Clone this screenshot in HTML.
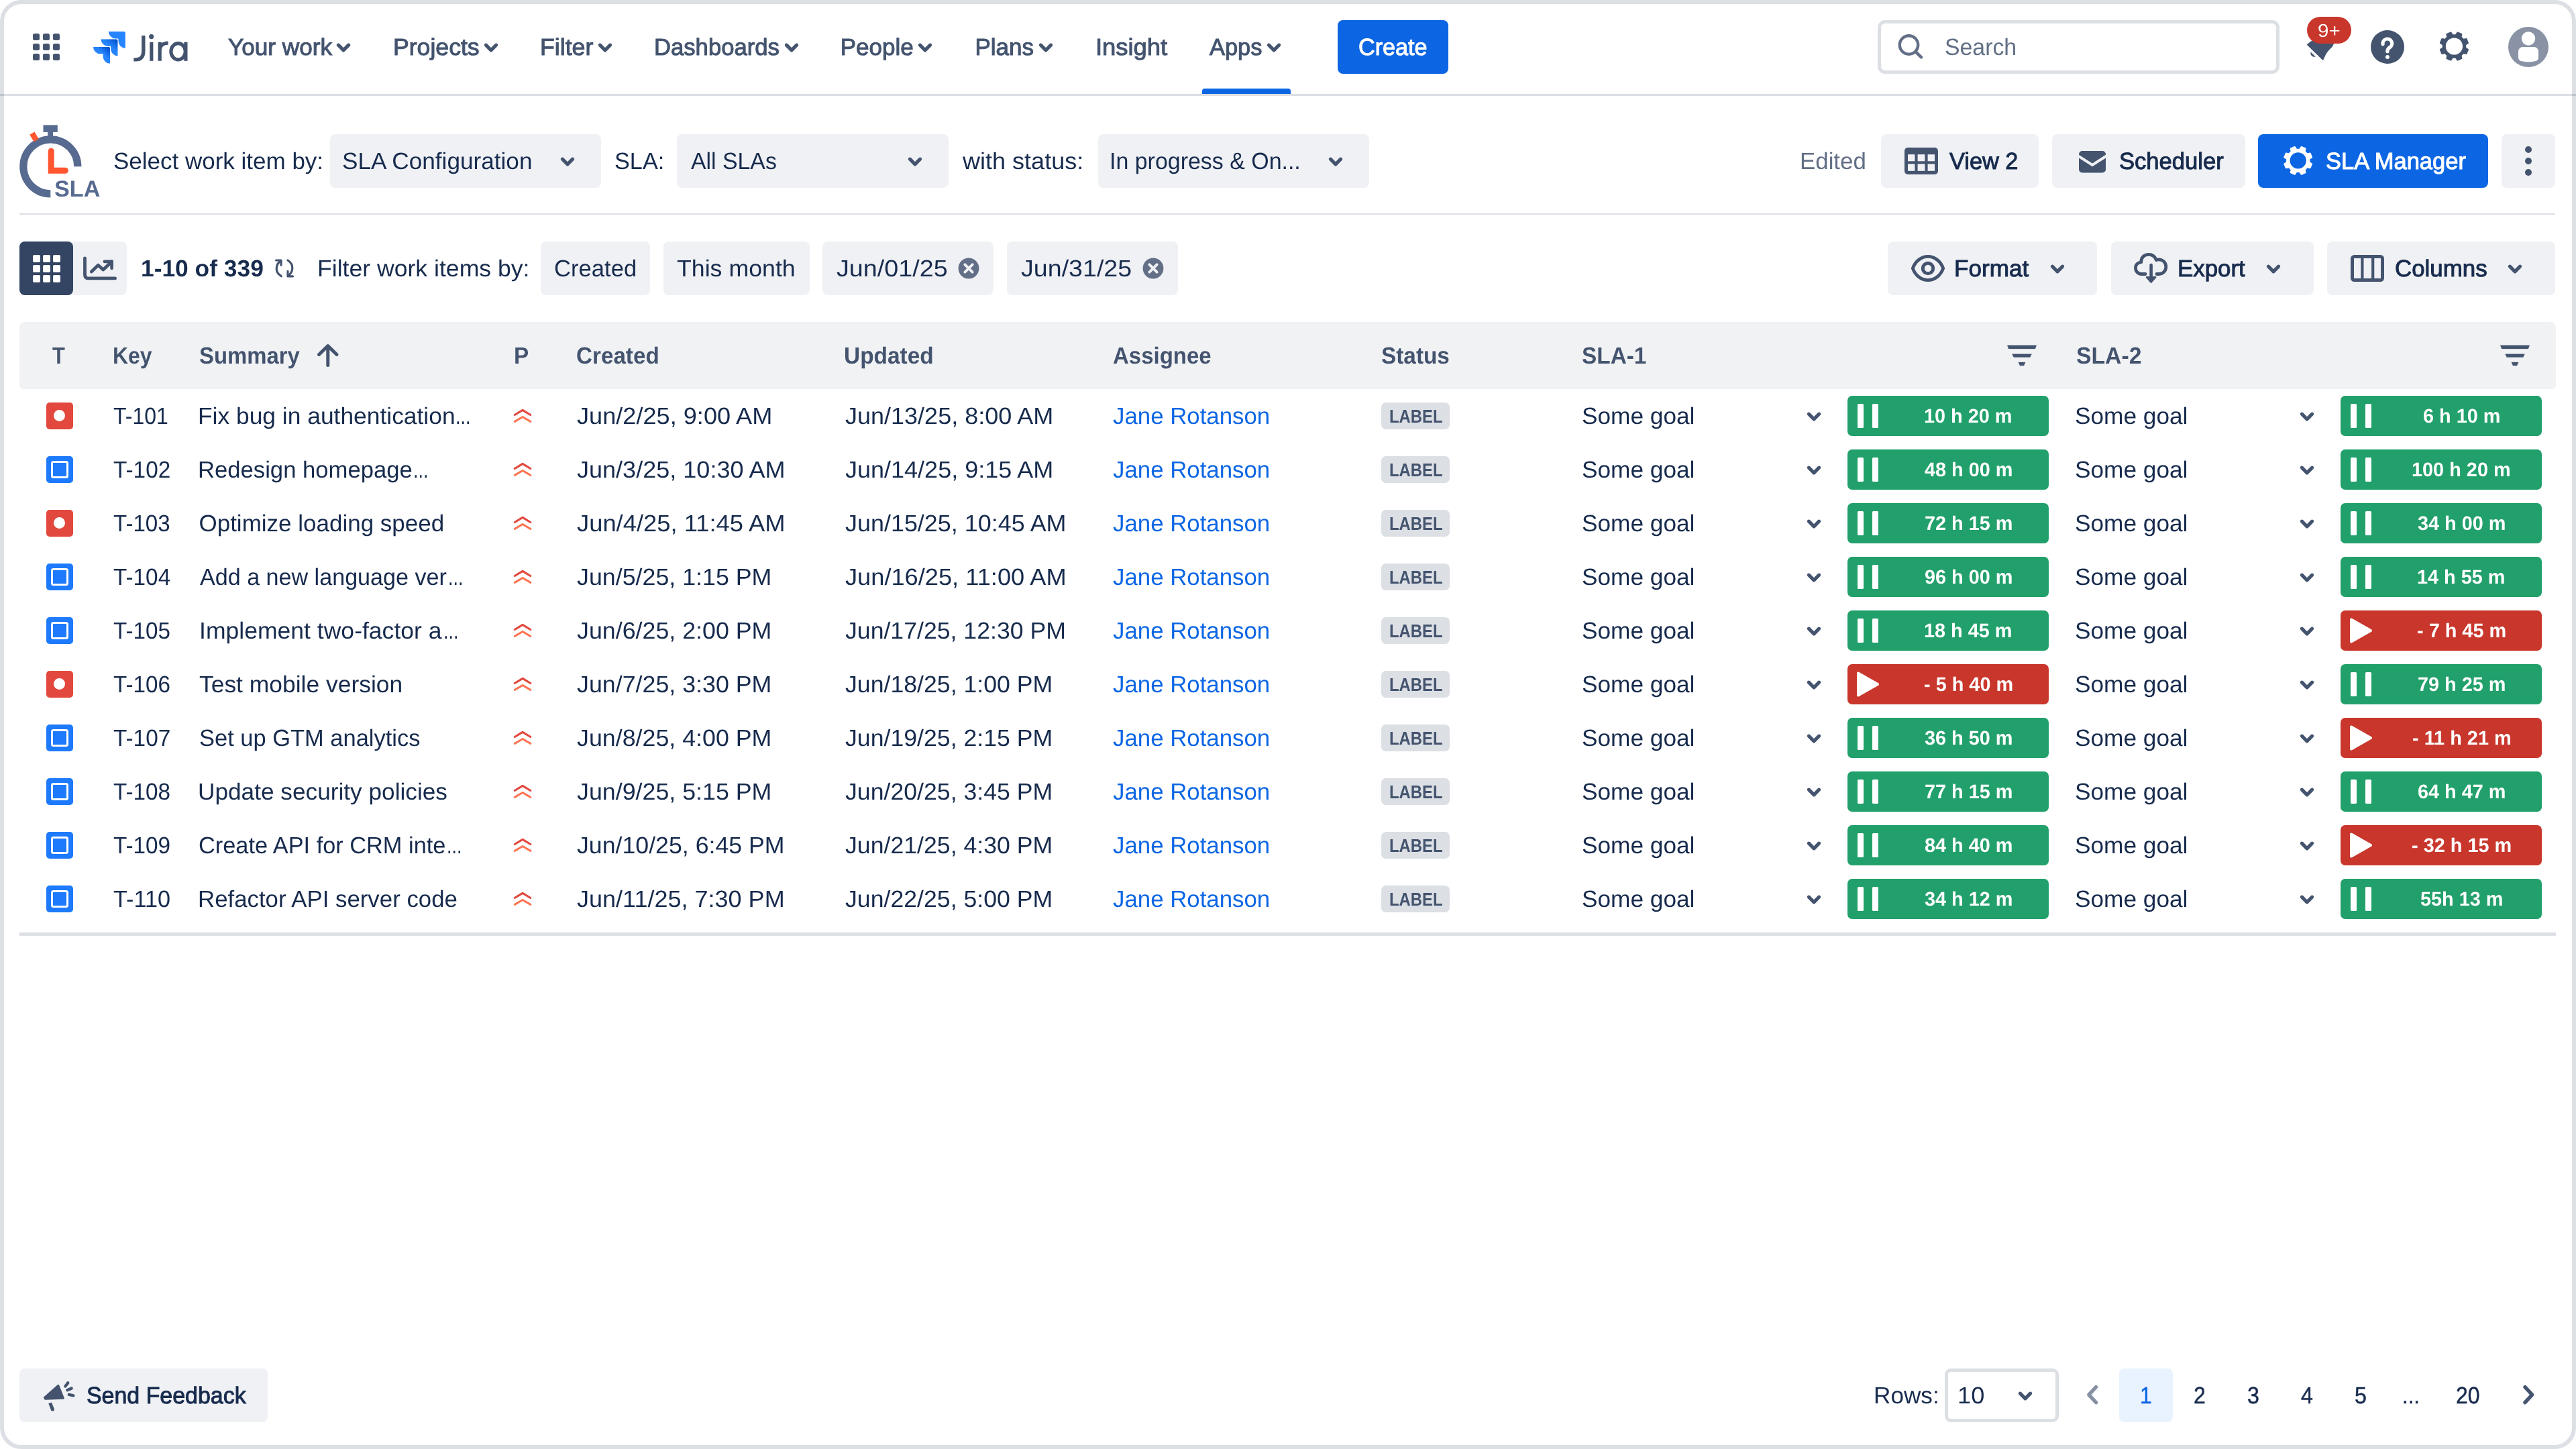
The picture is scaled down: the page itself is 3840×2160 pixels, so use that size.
<!DOCTYPE html>
<html lang="en"><head><meta charset="utf-8"><title>SLA Time and Report - Jira</title>
<style>
html,body{margin:0;padding:0;background:#fff;}
body{width:3840px;height:2160px;position:relative;overflow:hidden;font-family:"Liberation Sans",sans-serif;text-rendering:geometricPrecision;-webkit-font-smoothing:antialiased;}
.a{position:absolute;display:block;}
.t{white-space:pre;margin:0;padding:0;font-weight:400;transform-origin:0 0;}
svg{overflow:visible;}
#w{position:absolute;left:0;top:0;width:3840px;height:2160px;will-change:transform;}
</style></head><body><div id="w">
<div class="a" style="left:0;top:0;width:3840px;height:2160px;box-sizing:border-box;border:6px solid #dcdfe4;border-radius:32px;"></div>
<div class="a " style="left:0px;top:140px;width:3840px;height:2.6px;background:rgba(9,30,66,0.14);"></div>
<div class="a " style="left:29px;top:317.5px;width:3780px;height:2.6px;background:#dcdfe4;"></div>
<div class="a " style="left:49px;top:49.7px;width:10px;height:10px;background:#44546f;border-radius:2.5px;"></div>
<div class="a " style="left:49px;top:64.7px;width:10px;height:10px;background:#44546f;border-radius:2.5px;"></div>
<div class="a " style="left:49px;top:79.7px;width:10px;height:10px;background:#44546f;border-radius:2.5px;"></div>
<div class="a " style="left:64px;top:49.7px;width:10px;height:10px;background:#44546f;border-radius:2.5px;"></div>
<div class="a " style="left:64px;top:64.7px;width:10px;height:10px;background:#44546f;border-radius:2.5px;"></div>
<div class="a " style="left:64px;top:79.7px;width:10px;height:10px;background:#44546f;border-radius:2.5px;"></div>
<div class="a " style="left:79px;top:49.7px;width:10px;height:10px;background:#44546f;border-radius:2.5px;"></div>
<div class="a " style="left:79px;top:64.7px;width:10px;height:10px;background:#44546f;border-radius:2.5px;"></div>
<div class="a " style="left:79px;top:79.7px;width:10px;height:10px;background:#44546f;border-radius:2.5px;"></div>
<svg class="a" style="left:131px;top:39.05px;" width="64" height="64" viewBox="0 0 32 32"><defs><linearGradient id="jg1" x1="21.5" y1="10" x2="17" y2="15" gradientUnits="userSpaceOnUse"><stop offset="0.1" stop-color="#0052cc"/><stop offset="1" stop-color="#2684ff"/></linearGradient><linearGradient id="jg2" x1="16" y1="15.7" x2="11.3" y2="20.6" gradientUnits="userSpaceOnUse"><stop offset="0.1" stop-color="#0052cc"/><stop offset="1" stop-color="#2684ff"/></linearGradient></defs>
<path d="M26.937 4H15.41a5.197 5.197 0 0 0 5.197 5.197h2.123v2.05a5.197 5.197 0 0 0 5.197 5.196V4.99A.99.99 0 0 0 26.937 4z" fill="#2684ff"/>
<path d="M21.233 9.743H9.707a5.197 5.197 0 0 0 5.196 5.197h2.124v2.057a5.197 5.197 0 0 0 5.203 5.19V10.74a.997.997 0 0 0-.997-.997z" fill="url(#jg1)"/>
<path d="M15.527 15.483H4a5.197 5.197 0 0 0 5.197 5.197h2.13v2.05a5.197 5.197 0 0 0 5.19 5.197V16.473a.99.99 0 0 0-.99-.99z" fill="url(#jg2)"/></svg>
<svg class="a" style="left:190px;top:40px;" width="100" height="60" viewBox="0 0 100 60"><g fill="none" stroke="#44546f" stroke-width="5.2">
<path d="M23.8 13 V36.5 C23.8 45 19.5 48.9 12.5 48.9 H9.3" stroke-width="5.4"/>
<path d="M35.8 22.8 V50.8"/>
<path d="M48.2 22.8 V50.8 M48.2 36 C48.2 28 53 24.2 60.7 24.2"/>
<ellipse cx="75.6" cy="36.8" rx="10.7" ry="12.1"/>
<path d="M86.9 22.8 V50.8"/></g>
<circle cx="35.7" cy="14.6" r="3.6" fill="#44546f"/></svg>
<span class="a t" style="left:339.85px;top:48.60px;font-size:35px;line-height:43px;color:#44546f;transform:scaleX(1.0048);-webkit-text-stroke:1.0px #44546f;">Your work</span>
<svg class="a" style="left:497.9px;top:61.1px;" width="28" height="20" viewBox="0 0 28 20"><path d="M6.4 6.2 L14 13.8 L21.6 6.2" fill="none" stroke="#44546f" stroke-width="5.2" stroke-linecap="round" stroke-linejoin="round"/></svg>
<span class="a t" style="left:586.31px;top:48.60px;font-size:35px;line-height:43px;color:#44546f;transform:scaleX(1.0174);-webkit-text-stroke:1.0px #44546f;">Projects</span>
<svg class="a" style="left:717.9px;top:61.1px;" width="28" height="20" viewBox="0 0 28 20"><path d="M6.4 6.2 L14 13.8 L21.6 6.2" fill="none" stroke="#44546f" stroke-width="5.2" stroke-linecap="round" stroke-linejoin="round"/></svg>
<span class="a t" style="left:805.40px;top:48.60px;font-size:35px;line-height:43px;color:#44546f;transform:scaleX(1.0192);-webkit-text-stroke:1.0px #44546f;">Filter</span>
<svg class="a" style="left:887.7px;top:61.1px;" width="28" height="20" viewBox="0 0 28 20"><path d="M6.4 6.2 L14 13.8 L21.6 6.2" fill="none" stroke="#44546f" stroke-width="5.2" stroke-linecap="round" stroke-linejoin="round"/></svg>
<span class="a t" style="left:975.47px;top:48.60px;font-size:35px;line-height:43px;color:#44546f;transform:scaleX(0.9900);-webkit-text-stroke:1.0px #44546f;">Dashboards</span>
<svg class="a" style="left:1165.7px;top:61.1px;" width="28" height="20" viewBox="0 0 28 20"><path d="M6.4 6.2 L14 13.8 L21.6 6.2" fill="none" stroke="#44546f" stroke-width="5.2" stroke-linecap="round" stroke-linejoin="round"/></svg>
<span class="a t" style="left:1252.75px;top:48.60px;font-size:35px;line-height:43px;color:#44546f;-webkit-text-stroke:1.0px #44546f;">People</span>
<svg class="a" style="left:1365.3px;top:61.1px;" width="28" height="20" viewBox="0 0 28 20"><path d="M6.4 6.2 L14 13.8 L21.6 6.2" fill="none" stroke="#44546f" stroke-width="5.2" stroke-linecap="round" stroke-linejoin="round"/></svg>
<span class="a t" style="left:1453.45px;top:48.60px;font-size:35px;line-height:43px;color:#44546f;-webkit-text-stroke:1.0px #44546f;">Plans</span>
<svg class="a" style="left:1544.6px;top:61.1px;" width="28" height="20" viewBox="0 0 28 20"><path d="M6.4 6.2 L14 13.8 L21.6 6.2" fill="none" stroke="#44546f" stroke-width="5.2" stroke-linecap="round" stroke-linejoin="round"/></svg>
<span class="a t" style="left:1632.70px;top:48.60px;font-size:35px;line-height:43px;color:#44546f;transform:scaleX(1.0387);-webkit-text-stroke:1.0px #44546f;">Insight</span>
<span class="a t" style="left:1803.34px;top:48.60px;font-size:35px;line-height:43px;color:#44546f;transform:scaleX(0.9824);-webkit-text-stroke:1.0px #44546f;">Apps</span>
<svg class="a" style="left:1885px;top:61.1px;" width="28" height="20" viewBox="0 0 28 20"><path d="M6.4 6.2 L14 13.8 L21.6 6.2" fill="none" stroke="#44546f" stroke-width="5.2" stroke-linecap="round" stroke-linejoin="round"/></svg>
<div class="a " style="left:1792px;top:132px;width:132px;height:8px;background:#0c66e4;border-radius:4px 4px 0 0;"></div>
<div class="a " style="left:1994px;top:30px;width:165px;height:80px;background:#0c66e4;border-radius:8px;"></div>
<span class="a t" style="left:2024.98px;top:48.60px;font-size:35px;line-height:43px;color:#fff;transform:scaleX(0.9757);-webkit-text-stroke:1.0px #fff;">Create</span>
<div class="a" style="left:2799px;top:30px;width:599px;height:80px;box-sizing:border-box;border:5px solid #dcdfe4;border-radius:11px;"></div>
<svg class="a" style="left:2825px;top:46px;" width="48" height="48" viewBox="0 0 48 48"><circle cx="20.5" cy="21" r="13.7" fill="none" stroke="#626f86" stroke-width="4.4"/><path d="M30.5 31 L39 39.3" stroke="#626f86" stroke-width="4.6" stroke-linecap="round"/></svg>
<span class="a t" style="left:2899.30px;top:48.60px;font-size:35px;line-height:43px;color:#626f86;transform:scaleX(0.9664);">Search</span>
<svg class="a" style="left:3430px;top:55px;" width="60" height="45" viewBox="0 0 60 45"><path d="M10 11.6 L32.6 33.6 C35 27 38 22 42 18 C45.3 14.8 47.4 13 47.8 10 L47.8 4 L20 4 Z" fill="#44546f" stroke="#44546f" stroke-width="2" stroke-linejoin="round"/><path d="M14.6 22.5 A5.6 5.6 0 0 0 21.8 29.4 Z" fill="#44546f"/></svg>
<div class="a " style="left:3438.6px;top:25px;width:66px;height:40px;background:#c9372c;border-radius:20px;"></div>
<span class="a t" style="left:3454.86px;top:28.40px;font-size:27.5px;line-height:35px;color:#fff;transform:scaleX(1.0729);">9+</span>
<svg class="a" style="left:3533px;top:44px;" width="52" height="52" viewBox="0 0 52 52"><circle cx="26" cy="26" r="25" fill="#44546f"/><path d="M19.1 21.8 A6.8 6.8 0 1 1 30 26.2 C27.2 28.2 25.9 29.6 25.9 31.8 V32.7" fill="none" stroke="#fff" stroke-width="5.2" stroke-linecap="round" stroke-linejoin="round"/><circle cx="25.9" cy="41.1" r="3" fill="#fff"/></svg>
<svg class="a" style="left:3632px;top:43px;" width="52" height="52" viewBox="0 0 52 52"><path d="M46.78 31.06 L44.39 36.83 L39.99 35.87 L36.27 39.59 L37.23 43.99 L31.46 46.38 L29.03 42.59 L23.77 42.59 L21.34 46.38 L15.57 43.99 L16.53 39.59 L12.81 35.87 L8.41 36.83 L6.02 31.06 L9.81 28.63 L9.81 23.37 L6.02 20.94 L8.41 15.17 L12.81 16.13 L16.53 12.41 L15.57 8.01 L21.34 5.62 L23.77 9.41 L29.03 9.41 L31.46 5.62 L37.23 8.01 L36.27 12.41 L39.99 16.13 L44.39 15.17 L46.78 20.94 L42.99 23.37 L42.99 28.63 Z" fill="#44546f" stroke="#44546f" stroke-width="2.4" stroke-linejoin="round"/><circle cx="26.4" cy="26" r="12.6" fill="#fff"/></svg>
<svg class="a" style="left:3738px;top:39px;" width="62" height="62" viewBox="0 0 62 62"><circle cx="31" cy="31" r="30" fill="#8993a5"/><circle cx="31" cy="18.5" r="10.2" fill="#fff"/><path d="M16 37.5 a6.5 6.5 0 0 1 6.5 -6.5 h17 a6.5 6.5 0 0 1 6.5 6.5 v9 a6 6 0 0 1 -4 5.6 q-11 2.8 -22 0 a6 6 0 0 1 -4 -5.6 z" fill="#fff"/></svg>
<svg class="a" style="left:20px;top:170px;" width="150" height="140" viewBox="0 0 150 140"><path d="M95.8 78.3 A40.5 40.5 0 1 0 55.3 118.8" fill="none" stroke="#576a8f" stroke-width="11.2"/>
<rect x="44.5" y="16.4" width="21.3" height="10.5" fill="#576a8f"/><rect x="51.2" y="25" width="7.8" height="11" fill="#576a8f"/>
<rect x="-4.2" y="-6.2" width="8.4" height="12.4" fill="#ff5630" transform="translate(31 33.9) rotate(-30)"/>
<path d="M56.2 55.2 V84.2 H77.3" fill="none" stroke="#ff5630" stroke-width="9" stroke-linecap="round" stroke-linejoin="miter"/></svg>
<span class="a t" style="left:81.15px;top:260.90px;font-size:34px;line-height:42px;color:#576a8f;transform:scaleX(1.0045);font-weight:700;">SLA</span>
<span class="a t" style="left:168.95px;top:218.90px;font-size:35px;line-height:43px;color:#172b4d;">Select work item by:</span>
<div class="a " style="left:491.5px;top:200px;width:404.3px;height:80px;background:#f0f1f5;border-radius:8px;"></div>
<span class="a t" style="left:510.44px;top:218.90px;font-size:35px;line-height:43px;color:#172b4d;transform:scaleX(1.0047);">SLA Configuration</span>
<svg class="a" style="left:832px;top:230.5px;" width="28" height="20" viewBox="0 0 28 20"><path d="M6.4 6.2 L14 13.8 L21.6 6.2" fill="none" stroke="#44546f" stroke-width="5.2" stroke-linecap="round" stroke-linejoin="round"/></svg>
<span class="a t" style="left:915.98px;top:218.90px;font-size:35px;line-height:43px;color:#172b4d;transform:scaleX(0.9796);">SLA:</span>
<div class="a " style="left:1009px;top:200px;width:404.5px;height:80px;background:#f0f1f5;border-radius:8px;"></div>
<span class="a t" style="left:1029.95px;top:218.90px;font-size:35px;line-height:43px;color:#172b4d;transform:scaleX(0.9664);">All SLAs</span>
<svg class="a" style="left:1350px;top:230.5px;" width="28" height="20" viewBox="0 0 28 20"><path d="M6.4 6.2 L14 13.8 L21.6 6.2" fill="none" stroke="#44546f" stroke-width="5.2" stroke-linecap="round" stroke-linejoin="round"/></svg>
<span class="a t" style="left:1435.35px;top:218.90px;font-size:35px;line-height:43px;color:#172b4d;transform:scaleX(1.0294);">with status:</span>
<div class="a " style="left:1636.5px;top:200px;width:404.8px;height:80px;background:#f0f1f5;border-radius:8px;"></div>
<span class="a t" style="left:1654.40px;top:218.90px;font-size:35px;line-height:43px;color:#172b4d;transform:scaleX(0.9695);">In progress &amp; On...</span>
<svg class="a" style="left:1977.2px;top:230.5px;" width="28" height="20" viewBox="0 0 28 20"><path d="M6.4 6.2 L14 13.8 L21.6 6.2" fill="none" stroke="#44546f" stroke-width="5.2" stroke-linecap="round" stroke-linejoin="round"/></svg>
<span class="a t" style="left:2682.66px;top:218.90px;font-size:35px;line-height:43px;color:#626f86;transform:scaleX(0.9958);">Edited</span>
<div class="a " style="left:2804px;top:200px;width:235px;height:80px;background:#f0f1f5;border-radius:8px;"></div>
<svg class="a" style="left:2839px;top:220px;" width="50" height="40" viewBox="0 0 50 40"><rect x="0" y="0" width="50" height="40" rx="5" fill="#44546f"/><g fill="#f0f1f5"><rect x="5" y="10.2" width="10.4" height="10.1"/><rect x="19.6" y="10.2" width="10.8" height="10.1"/><rect x="34.6" y="10.2" width="10.4" height="10.1"/><rect x="5" y="24.4" width="10.4" height="10.4"/><rect x="19.6" y="24.4" width="10.8" height="10.4"/><rect x="34.6" y="24.4" width="10.4" height="10.4"/></g></svg>
<span class="a t" style="left:2906.24px;top:218.90px;font-size:35px;line-height:43px;color:#172b4d;transform:scaleX(0.9812);-webkit-text-stroke:1.0px #172b4d;">View 2</span>
<div class="a " style="left:3059px;top:200px;width:287.7px;height:80px;background:#f0f1f5;border-radius:8px;"></div>
<svg class="a" style="left:3099px;top:224.8px;" width="40" height="32.4" viewBox="0 0 40 32.4"><rect x="0" y="0" width="40" height="32.4" rx="5" fill="#44546f"/><path d="M-1 7.5 L20 21 L41 7.5" fill="none" stroke="#f0f1f5" stroke-width="4"/></svg>
<span class="a t" style="left:3159.46px;top:218.90px;font-size:35px;line-height:43px;color:#172b4d;transform:scaleX(0.9879);-webkit-text-stroke:1.0px #172b4d;">Scheduler</span>
<div class="a " style="left:3366.3px;top:200px;width:342.7px;height:80px;background:#0c66e4;border-radius:8px;"></div>
<svg class="a" style="left:3400px;top:214px;" width="52" height="52" viewBox="0 0 52 52"><path d="M45.89 30.41 L43.52 36.13 L39.16 35.18 L35.48 38.86 L36.43 43.22 L30.71 45.59 L28.30 41.84 L23.10 41.84 L20.69 45.59 L14.97 43.22 L15.92 38.86 L12.24 35.18 L7.88 36.13 L5.51 30.41 L9.26 28.00 L9.26 22.80 L5.51 20.39 L7.88 14.67 L12.24 15.62 L15.92 11.94 L14.97 7.58 L20.69 5.21 L23.10 8.96 L28.30 8.96 L30.71 5.21 L36.43 7.58 L35.48 11.94 L39.16 15.62 L43.52 14.67 L45.89 20.39 L42.14 22.80 L42.14 28.00 Z" fill="#fff" stroke="#fff" stroke-width="2.4" stroke-linejoin="round"/><circle cx="25.7" cy="25.4" r="12.1" fill="#0c66e4"/></svg>
<span class="a t" style="left:3467.47px;top:218.90px;font-size:35px;line-height:43px;color:#fff;transform:scaleX(0.9848);-webkit-text-stroke:1.0px #fff;">SLA Manager</span>
<div class="a " style="left:3729px;top:200px;width:80px;height:80px;background:#f0f1f5;border-radius:8px;"></div>
<div class="a " style="left:3764px;top:217.6px;width:10px;height:10px;background:#44546f;border-radius:5px;"></div>
<div class="a " style="left:3764px;top:235px;width:10px;height:10px;background:#44546f;border-radius:5px;"></div>
<div class="a " style="left:3764px;top:252.2px;width:10px;height:10px;background:#44546f;border-radius:5px;"></div>
<div class="a " style="left:29px;top:360px;width:160px;height:80px;background:#f0f1f5;border-radius:8px;"></div>
<div class="a " style="left:29px;top:360px;width:80px;height:80px;background:#344563;border-radius:8px;"></div>
<div class="a " style="left:48.7px;top:380.2px;width:11px;height:10.8px;background:#fff;border-radius:2px;"></div>
<div class="a " style="left:48.7px;top:395px;width:11px;height:10.8px;background:#fff;border-radius:2px;"></div>
<div class="a " style="left:48.7px;top:409.8px;width:11px;height:10.8px;background:#fff;border-radius:2px;"></div>
<div class="a " style="left:63.7px;top:380.2px;width:11px;height:10.8px;background:#fff;border-radius:2px;"></div>
<div class="a " style="left:63.7px;top:395px;width:11px;height:10.8px;background:#fff;border-radius:2px;"></div>
<div class="a " style="left:63.7px;top:409.8px;width:11px;height:10.8px;background:#fff;border-radius:2px;"></div>
<div class="a " style="left:78.7px;top:380.2px;width:11px;height:10.8px;background:#fff;border-radius:2px;"></div>
<div class="a " style="left:78.7px;top:395px;width:11px;height:10.8px;background:#fff;border-radius:2px;"></div>
<div class="a " style="left:78.7px;top:409.8px;width:11px;height:10.8px;background:#fff;border-radius:2px;"></div>
<svg class="a" style="left:120px;top:376px;" width="60" height="48" viewBox="0 0 60 48"><g fill="none" stroke="#44546f" stroke-width="4.8" stroke-linecap="round" stroke-linejoin="round"><path d="M6.5 8.8 V33.4 Q6.5 38.9 12 38.9 H51.6"/><path d="M16.3 29 L26.3 19.3 L33.9 26.1 L46.6 13.9"/><path d="M36 13.9 H46.6 V23.8"/></g></svg>
<span class="a t" style="left:210.48px;top:378.60px;font-size:35px;line-height:43px;color:#172b4d;transform:scaleX(1.0104);font-weight:700;">1-10 of 339</span>
<svg class="a" style="left:405px;top:380px;" width="40" height="40" viewBox="0 0 40 40"><g fill="none" stroke="#44546f" stroke-width="3.2" stroke-linecap="round" stroke-linejoin="round"><path d="M14.3 31.7 C9 28.5 7 24 7.2 20 C7.4 15 10 11 13.8 8.6"/><path d="M6.6 8 H14 V15.3"/><path d="M24 8 C29.5 11.5 31 16 30.8 20 C30.6 24.5 28 28.5 24.3 31.4"/><path d="M31.4 31.9 H24 V24.3"/></g></svg>
<span class="a t" style="left:472.60px;top:378.60px;font-size:35px;line-height:43px;color:#172b4d;transform:scaleX(1.0172);">Filter work items by:</span>
<div class="a " style="left:806.4px;top:360px;width:162.6px;height:80px;background:#f0f1f5;border-radius:8px;"></div>
<span class="a t" style="left:825.57px;top:378.60px;font-size:35px;line-height:43px;color:#172b4d;transform:scaleX(0.9896);">Created</span>
<div class="a " style="left:989px;top:360px;width:217.5px;height:80px;background:#f0f1f5;border-radius:8px;"></div>
<span class="a t" style="left:1009.23px;top:378.60px;font-size:35px;line-height:43px;color:#172b4d;transform:scaleX(1.0206);">This month</span>
<div class="a " style="left:1226px;top:360px;width:255.4px;height:80px;background:#f0f1f5;border-radius:8px;"></div>
<span class="a t" style="left:1246.96px;top:378.60px;font-size:35px;line-height:43px;color:#172b4d;transform:scaleX(1.0777);">Jun/01/25</span>
<div class="a " style="left:1501.4px;top:360px;width:254.8px;height:80px;background:#f0f1f5;border-radius:8px;"></div>
<span class="a t" style="left:1521.96px;top:378.60px;font-size:35px;line-height:43px;color:#172b4d;transform:scaleX(1.0744);">Jun/31/25</span>
<svg class="a" style="left:1428.1px;top:384px;" width="32" height="32" viewBox="0 0 32 32"><circle cx="16" cy="16" r="15.4" fill="#626f86"/><path d="M10.4 10.4 L21.6 21.6 M21.6 10.4 L10.4 21.6" stroke="#f0f1f5" stroke-width="4" stroke-linecap="round"/></svg>
<svg class="a" style="left:1702.9px;top:384px;" width="32" height="32" viewBox="0 0 32 32"><circle cx="16" cy="16" r="15.4" fill="#626f86"/><path d="M10.4 10.4 L21.6 21.6 M21.6 10.4 L10.4 21.6" stroke="#f0f1f5" stroke-width="4" stroke-linecap="round"/></svg>
<div class="a " style="left:2814px;top:360px;width:312.4px;height:80px;background:#f0f1f5;border-radius:8px;"></div>
<svg class="a" style="left:2846px;top:376px;" width="56" height="48" viewBox="0 0 56 48"><path d="M5.3 24 C9 13.5 18 6.4 28 6.4 C38 6.4 47 13.5 50.7 24 C47 34.5 38 41.6 28 41.6 C18 41.6 9 34.5 5.3 24 Z" fill="none" stroke="#44546f" stroke-width="4.8" stroke-linejoin="round"/><circle cx="28" cy="24" r="7.7" fill="none" stroke="#44546f" stroke-width="5"/></svg>
<span class="a t" style="left:2913.14px;top:378.60px;font-size:35px;line-height:43px;color:#172b4d;transform:scaleX(1.0032);-webkit-text-stroke:1.0px #172b4d;">Format</span>
<svg class="a" style="left:3052.5px;top:391.2px;" width="28" height="20" viewBox="0 0 28 20"><path d="M6.4 6.2 L14 13.8 L21.6 6.2" fill="none" stroke="#44546f" stroke-width="5.2" stroke-linecap="round" stroke-linejoin="round"/></svg>
<div class="a " style="left:3146.5px;top:360px;width:302.3px;height:80px;background:#f0f1f5;border-radius:8px;"></div>
<svg class="a" style="left:3176px;top:372px;" width="60" height="56" viewBox="0 0 60 56"><path d="M22 36.5 H16.5 C10.5 36.5 7.4 32 7.4 27.5 C7.4 22.5 11 19 15.8 18.8 C15.5 11.5 21 7.4 27 7.4 C32.5 7.4 36.5 10.5 38.3 15.5 C39.5 15 40.8 14.8 42 14.8 C48 14.8 52.8 19.5 52.8 25.5 C52.8 31.5 48.5 36.5 42.5 36.5 H39" fill="none" stroke="#44546f" stroke-width="4.8" stroke-linecap="round" stroke-linejoin="round"/><path d="M30.6 23 V42" stroke="#44546f" stroke-width="4.6" stroke-linecap="round"/><path d="M24 41.2 H37.2 L30.6 48.6 Z" fill="#44546f" stroke="#44546f" stroke-width="2.6" stroke-linejoin="round"/></svg>
<span class="a t" style="left:3246.16px;top:378.60px;font-size:35px;line-height:43px;color:#172b4d;transform:scaleX(0.9960);-webkit-text-stroke:1.0px #172b4d;">Export</span>
<svg class="a" style="left:3374.8px;top:391.2px;" width="28" height="20" viewBox="0 0 28 20"><path d="M6.4 6.2 L14 13.8 L21.6 6.2" fill="none" stroke="#44546f" stroke-width="5.2" stroke-linecap="round" stroke-linejoin="round"/></svg>
<div class="a " style="left:3469px;top:360px;width:339.7px;height:80px;background:#f0f1f5;border-radius:8px;"></div>
<svg class="a" style="left:3503.5px;top:380px;" width="50" height="40" viewBox="0 0 50 40"><rect x="2.5" y="2.5" width="45" height="35" rx="3" fill="none" stroke="#44546f" stroke-width="5"/><path d="M17.4 3 V37 M33.2 3 V37" stroke="#44546f" stroke-width="4.2"/></svg>
<span class="a t" style="left:3569.75px;top:378.60px;font-size:35px;line-height:43px;color:#172b4d;transform:scaleX(0.9963);-webkit-text-stroke:1.0px #172b4d;">Columns</span>
<svg class="a" style="left:3734.8px;top:391.2px;" width="28" height="20" viewBox="0 0 28 20"><path d="M6.4 6.2 L14 13.8 L21.6 6.2" fill="none" stroke="#44546f" stroke-width="5.2" stroke-linecap="round" stroke-linejoin="round"/></svg>
<div class="a " style="left:29px;top:480px;width:3780.5px;height:100px;background:#f1f2f4;border-radius:8px 8px 6px 6px;"></div>
<span class="a t" style="left:78.39px;top:509.20px;font-size:35px;line-height:43px;color:#44546f;transform:scaleX(0.8841);font-weight:700;">T</span>
<span class="a t" style="left:168.00px;top:509.20px;font-size:35px;line-height:43px;color:#44546f;transform:scaleX(0.9117);font-weight:700;">Key</span>
<span class="a t" style="left:297.06px;top:509.20px;font-size:35px;line-height:43px;color:#44546f;transform:scaleX(0.9391);font-weight:700;">Summary</span>
<span class="a t" style="left:766.41px;top:509.20px;font-size:35px;line-height:43px;color:#44546f;transform:scaleX(0.9521);font-weight:700;">P</span>
<span class="a t" style="left:859.27px;top:509.20px;font-size:35px;line-height:43px;color:#44546f;transform:scaleX(0.9491);font-weight:700;">Created</span>
<span class="a t" style="left:1258.09px;top:509.20px;font-size:35px;line-height:43px;color:#44546f;transform:scaleX(0.9550);font-weight:700;">Updated</span>
<span class="a t" style="left:1658.70px;top:509.20px;font-size:35px;line-height:43px;color:#44546f;transform:scaleX(0.9421);font-weight:700;">Assignee</span>
<span class="a t" style="left:2059.05px;top:509.20px;font-size:35px;line-height:43px;color:#44546f;transform:scaleX(0.9527);font-weight:700;">Status</span>
<span class="a t" style="left:2358.15px;top:509.20px;font-size:35px;line-height:43px;color:#44546f;transform:scaleX(0.9531);font-weight:700;">SLA-1</span>
<span class="a t" style="left:3094.64px;top:509.20px;font-size:35px;line-height:43px;color:#44546f;transform:scaleX(0.9641);font-weight:700;">SLA-2</span>
<svg class="a" style="left:465px;top:505px;" width="48" height="50" viewBox="0 0 48 50"><path d="M23.8 39.5 V11 M10.5 23.5 L23.8 10.6 L37 23.5" fill="none" stroke="#44546f" stroke-width="5" stroke-linecap="round" stroke-linejoin="round"/></svg>
<svg class="a" style="left:2990.1px;top:510px;" width="48" height="40" viewBox="0 0 48 40"><path d="M2.3 4.8 H45.7 L43.8 9.9 H4.2 Z M9.5 17.8 H38.5 L36.2 22.5 H11.8 Z M18.8 30 H29.2 L27 35 H21 Z" fill="#44546f" stroke="#44546f" stroke-width="0.3" stroke-linejoin="round"/></svg>
<svg class="a" style="left:3725.2px;top:510px;" width="48" height="40" viewBox="0 0 48 40"><path d="M2.3 4.8 H45.7 L43.8 9.9 H4.2 Z M9.5 17.8 H38.5 L36.2 22.5 H11.8 Z M18.8 30 H29.2 L27 35 H21 Z" fill="#44546f" stroke="#44546f" stroke-width="0.3" stroke-linejoin="round"/></svg>
<div class="a " style="left:69px;top:600px;width:40px;height:40px;background:#e2483d;border-radius:5px;"></div>
<div class="a " style="left:80.3px;top:611.4px;width:17px;height:17px;background:#fff;border-radius:9px;"></div>
<span class="a t" style="left:169.41px;top:599.00px;font-size:35px;line-height:43px;color:#172b4d;transform:scaleX(0.9139);">T-101</span>
<span class="a t" style="left:295.22px;top:599.00px;font-size:35px;line-height:43px;color:#172b4d;transform:scaleX(1.0110);">Fix bug in authentication</span>
<span class="a t" style="left:678.89px;top:599.00px;font-size:35px;line-height:43px;color:#172b4d;transform:scaleX(0.7659);">...</span>
<svg class="a" style="left:760px;top:606px;" width="40" height="28" viewBox="0 0 40 28"><path d="M7.3 12.5 L19.05 5.4 L30.8 12.5" fill="none" stroke="#e2483d" stroke-width="3.1" stroke-linecap="round" stroke-linejoin="round"/><path d="M7.3 22.3 L19.05 15.5 L30.8 22.3" fill="none" stroke="#ff7452" stroke-width="3.1" stroke-linecap="round" stroke-linejoin="round"/></svg>
<span class="a t" style="left:859.58px;top:599.00px;font-size:35px;line-height:43px;color:#172b4d;transform:scaleX(1.0326);">Jun/2/25, 9:00 AM</span>
<span class="a t" style="left:1259.89px;top:599.00px;font-size:35px;line-height:43px;color:#172b4d;transform:scaleX(1.0287);">Jun/13/25, 8:00 AM</span>
<span class="a t" style="left:1659.00px;top:599.00px;font-size:35px;line-height:43px;color:#0c66e4;transform:scaleX(0.9948);">Jane Rotanson</span>
<div class="a " style="left:2059px;top:600px;width:102.4px;height:40px;background:#dcdfe4;border-radius:7px;"></div>
<span class="a t" style="left:2070.74px;top:603.20px;font-size:27.5px;line-height:35px;color:#44546f;transform:scaleX(0.8669);font-weight:700;">LABEL</span>
<span class="a t" style="left:2357.54px;top:599.00px;font-size:35px;line-height:43px;color:#172b4d;transform:scaleX(1.0064);">Some goal</span>
<svg class="a" style="left:2689.8px;top:611.1px;" width="28" height="20" viewBox="0 0 28 20"><path d="M6.4 6.2 L14 13.8 L21.6 6.2" fill="none" stroke="#44546f" stroke-width="5.2" stroke-linecap="round" stroke-linejoin="round"/></svg>
<div class="a " style="left:2754px;top:590px;width:300px;height:60px;background:#22a06b;border-radius:7px;"></div>
<div class="a " style="left:2768.8px;top:602.4px;width:9px;height:35.2px;background:#fff;border-radius:1.5px;"></div>
<div class="a " style="left:2790.8px;top:602.4px;width:9px;height:35.2px;background:#fff;border-radius:1.5px;"></div>
<span class="a t" style="left:2868.25px;top:602.00px;font-size:29.5px;line-height:37px;color:#fff;transform:scaleX(0.9781);font-weight:700;">10 h 20 m</span>
<span class="a t" style="left:3092.94px;top:599.00px;font-size:35px;line-height:43px;color:#172b4d;transform:scaleX(1.0064);">Some goal</span>
<svg class="a" style="left:3424.8px;top:611.1px;" width="28" height="20" viewBox="0 0 28 20"><path d="M6.4 6.2 L14 13.8 L21.6 6.2" fill="none" stroke="#44546f" stroke-width="5.2" stroke-linecap="round" stroke-linejoin="round"/></svg>
<div class="a " style="left:3489px;top:590px;width:300px;height:60px;background:#22a06b;border-radius:7px;"></div>
<div class="a " style="left:3503.8px;top:602.4px;width:9px;height:35.2px;background:#fff;border-radius:1.5px;"></div>
<div class="a " style="left:3525.8px;top:602.4px;width:9px;height:35.2px;background:#fff;border-radius:1.5px;"></div>
<span class="a t" style="left:3611.71px;top:602.00px;font-size:29.5px;line-height:37px;color:#fff;transform:scaleX(0.9772);font-weight:700;">6 h 10 m</span>
<div class="a " style="left:69px;top:680px;width:40px;height:40px;background:#1d7afc;border-radius:5px;"></div>
<div class="a" style="left:75.6px;top:686.6px;width:26.8px;height:26.8px;box-sizing:border-box;border:3.4px solid #fff;border-radius:3.5px;"></div>
<span class="a t" style="left:169.39px;top:679.00px;font-size:35px;line-height:43px;color:#172b4d;transform:scaleX(0.9523);">T-102</span>
<span class="a t" style="left:295.28px;top:679.00px;font-size:35px;line-height:43px;color:#172b4d;transform:scaleX(0.9901);">Redesign homepage</span>
<span class="a t" style="left:615.99px;top:679.00px;font-size:35px;line-height:43px;color:#172b4d;transform:scaleX(0.7659);">...</span>
<svg class="a" style="left:760px;top:686px;" width="40" height="28" viewBox="0 0 40 28"><path d="M7.3 12.5 L19.05 5.4 L30.8 12.5" fill="none" stroke="#e2483d" stroke-width="3.1" stroke-linecap="round" stroke-linejoin="round"/><path d="M7.3 22.3 L19.05 15.5 L30.8 22.3" fill="none" stroke="#ff7452" stroke-width="3.1" stroke-linecap="round" stroke-linejoin="round"/></svg>
<span class="a t" style="left:859.59px;top:679.00px;font-size:35px;line-height:43px;color:#172b4d;transform:scaleX(1.0297);">Jun/3/25, 10:30 AM</span>
<span class="a t" style="left:1259.89px;top:679.00px;font-size:35px;line-height:43px;color:#172b4d;transform:scaleX(1.0287);">Jun/14/25, 9:15 AM</span>
<span class="a t" style="left:1659.00px;top:679.00px;font-size:35px;line-height:43px;color:#0c66e4;transform:scaleX(0.9948);">Jane Rotanson</span>
<div class="a " style="left:2059px;top:680px;width:102.4px;height:40px;background:#dcdfe4;border-radius:7px;"></div>
<span class="a t" style="left:2070.74px;top:683.20px;font-size:27.5px;line-height:35px;color:#44546f;transform:scaleX(0.8669);font-weight:700;">LABEL</span>
<span class="a t" style="left:2357.54px;top:679.00px;font-size:35px;line-height:43px;color:#172b4d;transform:scaleX(1.0064);">Some goal</span>
<svg class="a" style="left:2689.8px;top:691.1px;" width="28" height="20" viewBox="0 0 28 20"><path d="M6.4 6.2 L14 13.8 L21.6 6.2" fill="none" stroke="#44546f" stroke-width="5.2" stroke-linecap="round" stroke-linejoin="round"/></svg>
<div class="a " style="left:2754px;top:670px;width:300px;height:60px;background:#22a06b;border-radius:7px;"></div>
<div class="a " style="left:2768.8px;top:682.4px;width:9px;height:35.2px;background:#fff;border-radius:1.5px;"></div>
<div class="a " style="left:2790.8px;top:682.4px;width:9px;height:35.2px;background:#fff;border-radius:1.5px;"></div>
<span class="a t" style="left:2868.95px;top:682.00px;font-size:29.5px;line-height:37px;color:#fff;transform:scaleX(0.9782);font-weight:700;">48 h 00 m</span>
<span class="a t" style="left:3092.94px;top:679.00px;font-size:35px;line-height:43px;color:#172b4d;transform:scaleX(1.0064);">Some goal</span>
<svg class="a" style="left:3424.8px;top:691.1px;" width="28" height="20" viewBox="0 0 28 20"><path d="M6.4 6.2 L14 13.8 L21.6 6.2" fill="none" stroke="#44546f" stroke-width="5.2" stroke-linecap="round" stroke-linejoin="round"/></svg>
<div class="a " style="left:3489px;top:670px;width:300px;height:60px;background:#22a06b;border-radius:7px;"></div>
<div class="a " style="left:3503.8px;top:682.4px;width:9px;height:35.2px;background:#fff;border-radius:1.5px;"></div>
<div class="a " style="left:3525.8px;top:682.4px;width:9px;height:35.2px;background:#fff;border-radius:1.5px;"></div>
<span class="a t" style="left:3595.17px;top:682.00px;font-size:29.5px;line-height:37px;color:#fff;transform:scaleX(0.9789);font-weight:700;">100 h 20 m</span>
<div class="a " style="left:69px;top:760px;width:40px;height:40px;background:#e2483d;border-radius:5px;"></div>
<div class="a " style="left:80.3px;top:771.4px;width:17px;height:17px;background:#fff;border-radius:9px;"></div>
<span class="a t" style="left:169.39px;top:759.00px;font-size:35px;line-height:43px;color:#172b4d;transform:scaleX(0.9467);">T-103</span>
<span class="a t" style="left:296.45px;top:759.00px;font-size:35px;line-height:43px;color:#172b4d;">Optimize loading speed</span>
<svg class="a" style="left:760px;top:766px;" width="40" height="28" viewBox="0 0 40 28"><path d="M7.3 12.5 L19.05 5.4 L30.8 12.5" fill="none" stroke="#e2483d" stroke-width="3.1" stroke-linecap="round" stroke-linejoin="round"/><path d="M7.3 22.3 L19.05 15.5 L30.8 22.3" fill="none" stroke="#ff7452" stroke-width="3.1" stroke-linecap="round" stroke-linejoin="round"/></svg>
<span class="a t" style="left:859.58px;top:759.00px;font-size:35px;line-height:43px;color:#172b4d;transform:scaleX(1.0387);">Jun/4/25, 11:45 AM</span>
<span class="a t" style="left:1259.89px;top:759.00px;font-size:35px;line-height:43px;color:#172b4d;transform:scaleX(1.0264);">Jun/15/25, 10:45 AM</span>
<span class="a t" style="left:1659.00px;top:759.00px;font-size:35px;line-height:43px;color:#0c66e4;transform:scaleX(0.9948);">Jane Rotanson</span>
<div class="a " style="left:2059px;top:760px;width:102.4px;height:40px;background:#dcdfe4;border-radius:7px;"></div>
<span class="a t" style="left:2070.74px;top:763.20px;font-size:27.5px;line-height:35px;color:#44546f;transform:scaleX(0.8669);font-weight:700;">LABEL</span>
<span class="a t" style="left:2357.54px;top:759.00px;font-size:35px;line-height:43px;color:#172b4d;transform:scaleX(1.0064);">Some goal</span>
<svg class="a" style="left:2689.8px;top:771.1px;" width="28" height="20" viewBox="0 0 28 20"><path d="M6.4 6.2 L14 13.8 L21.6 6.2" fill="none" stroke="#44546f" stroke-width="5.2" stroke-linecap="round" stroke-linejoin="round"/></svg>
<div class="a " style="left:2754px;top:750px;width:300px;height:60px;background:#22a06b;border-radius:7px;"></div>
<div class="a " style="left:2768.8px;top:762.4px;width:9px;height:35.2px;background:#fff;border-radius:1.5px;"></div>
<div class="a " style="left:2790.8px;top:762.4px;width:9px;height:35.2px;background:#fff;border-radius:1.5px;"></div>
<span class="a t" style="left:2868.54px;top:762.00px;font-size:29.5px;line-height:37px;color:#fff;transform:scaleX(0.9782);font-weight:700;">72 h 15 m</span>
<span class="a t" style="left:3092.94px;top:759.00px;font-size:35px;line-height:43px;color:#172b4d;transform:scaleX(1.0064);">Some goal</span>
<svg class="a" style="left:3424.8px;top:771.1px;" width="28" height="20" viewBox="0 0 28 20"><path d="M6.4 6.2 L14 13.8 L21.6 6.2" fill="none" stroke="#44546f" stroke-width="5.2" stroke-linecap="round" stroke-linejoin="round"/></svg>
<div class="a " style="left:3489px;top:750px;width:300px;height:60px;background:#22a06b;border-radius:7px;"></div>
<div class="a " style="left:3503.8px;top:762.4px;width:9px;height:35.2px;background:#fff;border-radius:1.5px;"></div>
<div class="a " style="left:3525.8px;top:762.4px;width:9px;height:35.2px;background:#fff;border-radius:1.5px;"></div>
<span class="a t" style="left:3603.83px;top:762.00px;font-size:29.5px;line-height:37px;color:#fff;transform:scaleX(0.9782);font-weight:700;">34 h 00 m</span>
<div class="a " style="left:69px;top:840px;width:40px;height:40px;background:#1d7afc;border-radius:5px;"></div>
<div class="a" style="left:75.6px;top:846.6px;width:26.8px;height:26.8px;box-sizing:border-box;border:3.4px solid #fff;border-radius:3.5px;"></div>
<span class="a t" style="left:169.39px;top:839.00px;font-size:35px;line-height:43px;color:#172b4d;transform:scaleX(0.9516);">T-104</span>
<span class="a t" style="left:298.05px;top:839.00px;font-size:35px;line-height:43px;color:#172b4d;transform:scaleX(0.9743);">Add a new language ver</span>
<span class="a t" style="left:667.69px;top:839.00px;font-size:35px;line-height:43px;color:#172b4d;transform:scaleX(0.7659);">...</span>
<svg class="a" style="left:760px;top:846px;" width="40" height="28" viewBox="0 0 40 28"><path d="M7.3 12.5 L19.05 5.4 L30.8 12.5" fill="none" stroke="#e2483d" stroke-width="3.1" stroke-linecap="round" stroke-linejoin="round"/><path d="M7.3 22.3 L19.05 15.5 L30.8 22.3" fill="none" stroke="#ff7452" stroke-width="3.1" stroke-linecap="round" stroke-linejoin="round"/></svg>
<span class="a t" style="left:859.59px;top:839.00px;font-size:35px;line-height:43px;color:#172b4d;transform:scaleX(1.0224);">Jun/5/25, 1:15 PM</span>
<span class="a t" style="left:1259.88px;top:839.00px;font-size:35px;line-height:43px;color:#172b4d;transform:scaleX(1.0349);">Jun/16/25, 11:00 AM</span>
<span class="a t" style="left:1659.00px;top:839.00px;font-size:35px;line-height:43px;color:#0c66e4;transform:scaleX(0.9948);">Jane Rotanson</span>
<div class="a " style="left:2059px;top:840px;width:102.4px;height:40px;background:#dcdfe4;border-radius:7px;"></div>
<span class="a t" style="left:2070.74px;top:843.20px;font-size:27.5px;line-height:35px;color:#44546f;transform:scaleX(0.8669);font-weight:700;">LABEL</span>
<span class="a t" style="left:2357.54px;top:839.00px;font-size:35px;line-height:43px;color:#172b4d;transform:scaleX(1.0064);">Some goal</span>
<svg class="a" style="left:2689.8px;top:851.1px;" width="28" height="20" viewBox="0 0 28 20"><path d="M6.4 6.2 L14 13.8 L21.6 6.2" fill="none" stroke="#44546f" stroke-width="5.2" stroke-linecap="round" stroke-linejoin="round"/></svg>
<div class="a " style="left:2754px;top:830px;width:300px;height:60px;background:#22a06b;border-radius:7px;"></div>
<div class="a " style="left:2768.8px;top:842.4px;width:9px;height:35.2px;background:#fff;border-radius:1.5px;"></div>
<div class="a " style="left:2790.8px;top:842.4px;width:9px;height:35.2px;background:#fff;border-radius:1.5px;"></div>
<span class="a t" style="left:2868.66px;top:842.00px;font-size:29.5px;line-height:37px;color:#fff;transform:scaleX(0.9782);font-weight:700;">96 h 00 m</span>
<span class="a t" style="left:3092.94px;top:839.00px;font-size:35px;line-height:43px;color:#172b4d;transform:scaleX(1.0064);">Some goal</span>
<svg class="a" style="left:3424.8px;top:851.1px;" width="28" height="20" viewBox="0 0 28 20"><path d="M6.4 6.2 L14 13.8 L21.6 6.2" fill="none" stroke="#44546f" stroke-width="5.2" stroke-linecap="round" stroke-linejoin="round"/></svg>
<div class="a " style="left:3489px;top:830px;width:300px;height:60px;background:#22a06b;border-radius:7px;"></div>
<div class="a " style="left:3503.8px;top:842.4px;width:9px;height:35.2px;background:#fff;border-radius:1.5px;"></div>
<div class="a " style="left:3525.8px;top:842.4px;width:9px;height:35.2px;background:#fff;border-radius:1.5px;"></div>
<span class="a t" style="left:3603.25px;top:842.00px;font-size:29.5px;line-height:37px;color:#fff;transform:scaleX(0.9781);font-weight:700;">14 h 55 m</span>
<div class="a " style="left:69px;top:920px;width:40px;height:40px;background:#1d7afc;border-radius:5px;"></div>
<div class="a" style="left:75.6px;top:926.6px;width:26.8px;height:26.8px;box-sizing:border-box;border:3.4px solid #fff;border-radius:3.5px;"></div>
<span class="a t" style="left:169.39px;top:919.00px;font-size:35px;line-height:43px;color:#172b4d;transform:scaleX(0.9496);">T-105</span>
<span class="a t" style="left:296.75px;top:919.00px;font-size:35px;line-height:43px;color:#172b4d;transform:scaleX(1.0156);">Implement two-factor a</span>
<span class="a t" style="left:660.69px;top:919.00px;font-size:35px;line-height:43px;color:#172b4d;transform:scaleX(0.7659);">...</span>
<svg class="a" style="left:760px;top:926px;" width="40" height="28" viewBox="0 0 40 28"><path d="M7.3 12.5 L19.05 5.4 L30.8 12.5" fill="none" stroke="#e2483d" stroke-width="3.1" stroke-linecap="round" stroke-linejoin="round"/><path d="M7.3 22.3 L19.05 15.5 L30.8 22.3" fill="none" stroke="#ff7452" stroke-width="3.1" stroke-linecap="round" stroke-linejoin="round"/></svg>
<span class="a t" style="left:859.59px;top:919.00px;font-size:35px;line-height:43px;color:#172b4d;transform:scaleX(1.0224);">Jun/6/25, 2:00 PM</span>
<span class="a t" style="left:1259.89px;top:919.00px;font-size:35px;line-height:43px;color:#172b4d;transform:scaleX(1.0183);">Jun/17/25, 12:30 PM</span>
<span class="a t" style="left:1659.00px;top:919.00px;font-size:35px;line-height:43px;color:#0c66e4;transform:scaleX(0.9948);">Jane Rotanson</span>
<div class="a " style="left:2059px;top:920px;width:102.4px;height:40px;background:#dcdfe4;border-radius:7px;"></div>
<span class="a t" style="left:2070.74px;top:923.20px;font-size:27.5px;line-height:35px;color:#44546f;transform:scaleX(0.8669);font-weight:700;">LABEL</span>
<span class="a t" style="left:2357.54px;top:919.00px;font-size:35px;line-height:43px;color:#172b4d;transform:scaleX(1.0064);">Some goal</span>
<svg class="a" style="left:2689.8px;top:931.1px;" width="28" height="20" viewBox="0 0 28 20"><path d="M6.4 6.2 L14 13.8 L21.6 6.2" fill="none" stroke="#44546f" stroke-width="5.2" stroke-linecap="round" stroke-linejoin="round"/></svg>
<div class="a " style="left:2754px;top:910px;width:300px;height:60px;background:#22a06b;border-radius:7px;"></div>
<div class="a " style="left:2768.8px;top:922.4px;width:9px;height:35.2px;background:#fff;border-radius:1.5px;"></div>
<div class="a " style="left:2790.8px;top:922.4px;width:9px;height:35.2px;background:#fff;border-radius:1.5px;"></div>
<span class="a t" style="left:2868.25px;top:922.00px;font-size:29.5px;line-height:37px;color:#fff;transform:scaleX(0.9781);font-weight:700;">18 h 45 m</span>
<span class="a t" style="left:3092.94px;top:919.00px;font-size:35px;line-height:43px;color:#172b4d;transform:scaleX(1.0064);">Some goal</span>
<svg class="a" style="left:3424.8px;top:931.1px;" width="28" height="20" viewBox="0 0 28 20"><path d="M6.4 6.2 L14 13.8 L21.6 6.2" fill="none" stroke="#44546f" stroke-width="5.2" stroke-linecap="round" stroke-linejoin="round"/></svg>
<div class="a " style="left:3489px;top:910px;width:300px;height:60px;background:#c9372c;border-radius:7px;"></div>
<svg class="a" style="left:3499px;top:916px;" width="44" height="48" viewBox="0 0 44 48"><path d="M6 7.5 L35 24 L6 40.5 Z" fill="#fff" stroke="#fff" stroke-width="4" stroke-linejoin="round"/></svg>
<span class="a t" style="left:3602.80px;top:922.00px;font-size:29.5px;line-height:37px;color:#fff;transform:scaleX(0.9782);font-weight:700;">- 7 h 45 m</span>
<div class="a " style="left:69px;top:1000px;width:40px;height:40px;background:#e2483d;border-radius:5px;"></div>
<div class="a " style="left:80.3px;top:1011.4px;width:17px;height:17px;background:#fff;border-radius:9px;"></div>
<span class="a t" style="left:169.39px;top:999.00px;font-size:35px;line-height:43px;color:#172b4d;transform:scaleX(0.9501);">T-106</span>
<span class="a t" style="left:297.34px;top:999.00px;font-size:35px;line-height:43px;color:#172b4d;transform:scaleX(1.0120);">Test mobile version</span>
<svg class="a" style="left:760px;top:1006px;" width="40" height="28" viewBox="0 0 40 28"><path d="M7.3 12.5 L19.05 5.4 L30.8 12.5" fill="none" stroke="#e2483d" stroke-width="3.1" stroke-linecap="round" stroke-linejoin="round"/><path d="M7.3 22.3 L19.05 15.5 L30.8 22.3" fill="none" stroke="#ff7452" stroke-width="3.1" stroke-linecap="round" stroke-linejoin="round"/></svg>
<span class="a t" style="left:859.59px;top:999.00px;font-size:35px;line-height:43px;color:#172b4d;transform:scaleX(1.0224);">Jun/7/25, 3:30 PM</span>
<span class="a t" style="left:1259.89px;top:999.00px;font-size:35px;line-height:43px;color:#172b4d;transform:scaleX(1.0190);">Jun/18/25, 1:00 PM</span>
<span class="a t" style="left:1659.00px;top:999.00px;font-size:35px;line-height:43px;color:#0c66e4;transform:scaleX(0.9948);">Jane Rotanson</span>
<div class="a " style="left:2059px;top:1000px;width:102.4px;height:40px;background:#dcdfe4;border-radius:7px;"></div>
<span class="a t" style="left:2070.74px;top:1003.20px;font-size:27.5px;line-height:35px;color:#44546f;transform:scaleX(0.8669);font-weight:700;">LABEL</span>
<span class="a t" style="left:2357.54px;top:999.00px;font-size:35px;line-height:43px;color:#172b4d;transform:scaleX(1.0064);">Some goal</span>
<svg class="a" style="left:2689.8px;top:1011.1px;" width="28" height="20" viewBox="0 0 28 20"><path d="M6.4 6.2 L14 13.8 L21.6 6.2" fill="none" stroke="#44546f" stroke-width="5.2" stroke-linecap="round" stroke-linejoin="round"/></svg>
<div class="a " style="left:2754px;top:990px;width:300px;height:60px;background:#c9372c;border-radius:7px;"></div>
<svg class="a" style="left:2764px;top:996px;" width="44" height="48" viewBox="0 0 44 48"><path d="M6 7.5 L35 24 L6 40.5 Z" fill="#fff" stroke="#fff" stroke-width="4" stroke-linejoin="round"/></svg>
<span class="a t" style="left:2867.80px;top:1002.00px;font-size:29.5px;line-height:37px;color:#fff;transform:scaleX(0.9782);font-weight:700;">- 5 h 40 m</span>
<span class="a t" style="left:3092.94px;top:999.00px;font-size:35px;line-height:43px;color:#172b4d;transform:scaleX(1.0064);">Some goal</span>
<svg class="a" style="left:3424.8px;top:1011.1px;" width="28" height="20" viewBox="0 0 28 20"><path d="M6.4 6.2 L14 13.8 L21.6 6.2" fill="none" stroke="#44546f" stroke-width="5.2" stroke-linecap="round" stroke-linejoin="round"/></svg>
<div class="a " style="left:3489px;top:990px;width:300px;height:60px;background:#22a06b;border-radius:7px;"></div>
<div class="a " style="left:3503.8px;top:1002.4px;width:9px;height:35.2px;background:#fff;border-radius:1.5px;"></div>
<div class="a " style="left:3525.8px;top:1002.4px;width:9px;height:35.2px;background:#fff;border-radius:1.5px;"></div>
<span class="a t" style="left:3603.54px;top:1002.00px;font-size:29.5px;line-height:37px;color:#fff;transform:scaleX(0.9782);font-weight:700;">79 h 25 m</span>
<div class="a " style="left:69px;top:1080px;width:40px;height:40px;background:#1d7afc;border-radius:5px;"></div>
<div class="a" style="left:75.6px;top:1086.6px;width:26.8px;height:26.8px;box-sizing:border-box;border:3.4px solid #fff;border-radius:3.5px;"></div>
<span class="a t" style="left:169.39px;top:1079.00px;font-size:35px;line-height:43px;color:#172b4d;transform:scaleX(0.9523);">T-107</span>
<span class="a t" style="left:296.57px;top:1079.00px;font-size:35px;line-height:43px;color:#172b4d;transform:scaleX(0.9845);">Set up GTM analytics</span>
<svg class="a" style="left:760px;top:1086px;" width="40" height="28" viewBox="0 0 40 28"><path d="M7.3 12.5 L19.05 5.4 L30.8 12.5" fill="none" stroke="#e2483d" stroke-width="3.1" stroke-linecap="round" stroke-linejoin="round"/><path d="M7.3 22.3 L19.05 15.5 L30.8 22.3" fill="none" stroke="#ff7452" stroke-width="3.1" stroke-linecap="round" stroke-linejoin="round"/></svg>
<span class="a t" style="left:859.59px;top:1079.00px;font-size:35px;line-height:43px;color:#172b4d;transform:scaleX(1.0224);">Jun/8/25, 4:00 PM</span>
<span class="a t" style="left:1259.89px;top:1079.00px;font-size:35px;line-height:43px;color:#172b4d;transform:scaleX(1.0190);">Jun/19/25, 2:15 PM</span>
<span class="a t" style="left:1659.00px;top:1079.00px;font-size:35px;line-height:43px;color:#0c66e4;transform:scaleX(0.9948);">Jane Rotanson</span>
<div class="a " style="left:2059px;top:1080px;width:102.4px;height:40px;background:#dcdfe4;border-radius:7px;"></div>
<span class="a t" style="left:2070.74px;top:1083.20px;font-size:27.5px;line-height:35px;color:#44546f;transform:scaleX(0.8669);font-weight:700;">LABEL</span>
<span class="a t" style="left:2357.54px;top:1079.00px;font-size:35px;line-height:43px;color:#172b4d;transform:scaleX(1.0064);">Some goal</span>
<svg class="a" style="left:2689.8px;top:1091.1px;" width="28" height="20" viewBox="0 0 28 20"><path d="M6.4 6.2 L14 13.8 L21.6 6.2" fill="none" stroke="#44546f" stroke-width="5.2" stroke-linecap="round" stroke-linejoin="round"/></svg>
<div class="a " style="left:2754px;top:1070px;width:300px;height:60px;background:#22a06b;border-radius:7px;"></div>
<div class="a " style="left:2768.8px;top:1082.4px;width:9px;height:35.2px;background:#fff;border-radius:1.5px;"></div>
<div class="a " style="left:2790.8px;top:1082.4px;width:9px;height:35.2px;background:#fff;border-radius:1.5px;"></div>
<span class="a t" style="left:2868.83px;top:1082.00px;font-size:29.5px;line-height:37px;color:#fff;transform:scaleX(0.9782);font-weight:700;">36 h 50 m</span>
<span class="a t" style="left:3092.94px;top:1079.00px;font-size:35px;line-height:43px;color:#172b4d;transform:scaleX(1.0064);">Some goal</span>
<svg class="a" style="left:3424.8px;top:1091.1px;" width="28" height="20" viewBox="0 0 28 20"><path d="M6.4 6.2 L14 13.8 L21.6 6.2" fill="none" stroke="#44546f" stroke-width="5.2" stroke-linecap="round" stroke-linejoin="round"/></svg>
<div class="a " style="left:3489px;top:1070px;width:300px;height:60px;background:#c9372c;border-radius:7px;"></div>
<svg class="a" style="left:3499px;top:1076px;" width="44" height="48" viewBox="0 0 44 48"><path d="M6 7.5 L35 24 L6 40.5 Z" fill="#fff" stroke="#fff" stroke-width="4" stroke-linejoin="round"/></svg>
<span class="a t" style="left:3595.51px;top:1082.00px;font-size:29.5px;line-height:37px;color:#fff;transform:scaleX(0.9789);font-weight:700;">- 11 h 21 m</span>
<div class="a " style="left:69px;top:1160px;width:40px;height:40px;background:#1d7afc;border-radius:5px;"></div>
<div class="a" style="left:75.6px;top:1166.6px;width:26.8px;height:26.8px;box-sizing:border-box;border:3.4px solid #fff;border-radius:3.5px;"></div>
<span class="a t" style="left:169.39px;top:1159.00px;font-size:35px;line-height:43px;color:#172b4d;transform:scaleX(0.9501);">T-108</span>
<span class="a t" style="left:295.38px;top:1159.00px;font-size:35px;line-height:43px;color:#172b4d;transform:scaleX(1.0064);">Update security policies</span>
<svg class="a" style="left:760px;top:1166px;" width="40" height="28" viewBox="0 0 40 28"><path d="M7.3 12.5 L19.05 5.4 L30.8 12.5" fill="none" stroke="#e2483d" stroke-width="3.1" stroke-linecap="round" stroke-linejoin="round"/><path d="M7.3 22.3 L19.05 15.5 L30.8 22.3" fill="none" stroke="#ff7452" stroke-width="3.1" stroke-linecap="round" stroke-linejoin="round"/></svg>
<span class="a t" style="left:859.59px;top:1159.00px;font-size:35px;line-height:43px;color:#172b4d;transform:scaleX(1.0224);">Jun/9/25, 5:15 PM</span>
<span class="a t" style="left:1259.89px;top:1159.00px;font-size:35px;line-height:43px;color:#172b4d;transform:scaleX(1.0190);">Jun/20/25, 3:45 PM</span>
<span class="a t" style="left:1659.00px;top:1159.00px;font-size:35px;line-height:43px;color:#0c66e4;transform:scaleX(0.9948);">Jane Rotanson</span>
<div class="a " style="left:2059px;top:1160px;width:102.4px;height:40px;background:#dcdfe4;border-radius:7px;"></div>
<span class="a t" style="left:2070.74px;top:1163.20px;font-size:27.5px;line-height:35px;color:#44546f;transform:scaleX(0.8669);font-weight:700;">LABEL</span>
<span class="a t" style="left:2357.54px;top:1159.00px;font-size:35px;line-height:43px;color:#172b4d;transform:scaleX(1.0064);">Some goal</span>
<svg class="a" style="left:2689.8px;top:1171.1px;" width="28" height="20" viewBox="0 0 28 20"><path d="M6.4 6.2 L14 13.8 L21.6 6.2" fill="none" stroke="#44546f" stroke-width="5.2" stroke-linecap="round" stroke-linejoin="round"/></svg>
<div class="a " style="left:2754px;top:1150px;width:300px;height:60px;background:#22a06b;border-radius:7px;"></div>
<div class="a " style="left:2768.8px;top:1162.4px;width:9px;height:35.2px;background:#fff;border-radius:1.5px;"></div>
<div class="a " style="left:2790.8px;top:1162.4px;width:9px;height:35.2px;background:#fff;border-radius:1.5px;"></div>
<span class="a t" style="left:2868.54px;top:1162.00px;font-size:29.5px;line-height:37px;color:#fff;transform:scaleX(0.9782);font-weight:700;">77 h 15 m</span>
<span class="a t" style="left:3092.94px;top:1159.00px;font-size:35px;line-height:43px;color:#172b4d;transform:scaleX(1.0064);">Some goal</span>
<svg class="a" style="left:3424.8px;top:1171.1px;" width="28" height="20" viewBox="0 0 28 20"><path d="M6.4 6.2 L14 13.8 L21.6 6.2" fill="none" stroke="#44546f" stroke-width="5.2" stroke-linecap="round" stroke-linejoin="round"/></svg>
<div class="a " style="left:3489px;top:1150px;width:300px;height:60px;background:#22a06b;border-radius:7px;"></div>
<div class="a " style="left:3503.8px;top:1162.4px;width:9px;height:35.2px;background:#fff;border-radius:1.5px;"></div>
<div class="a " style="left:3525.8px;top:1162.4px;width:9px;height:35.2px;background:#fff;border-radius:1.5px;"></div>
<span class="a t" style="left:3603.64px;top:1162.00px;font-size:29.5px;line-height:37px;color:#fff;transform:scaleX(0.9782);font-weight:700;">64 h 47 m</span>
<div class="a " style="left:69px;top:1240px;width:40px;height:40px;background:#1d7afc;border-radius:5px;"></div>
<div class="a" style="left:75.6px;top:1246.6px;width:26.8px;height:26.8px;box-sizing:border-box;border:3.4px solid #fff;border-radius:3.5px;"></div>
<span class="a t" style="left:169.39px;top:1239.00px;font-size:35px;line-height:43px;color:#172b4d;transform:scaleX(0.9512);">T-109</span>
<span class="a t" style="left:296.38px;top:1239.00px;font-size:35px;line-height:43px;color:#172b4d;transform:scaleX(0.9813);">Create API for CRM inte</span>
<span class="a t" style="left:665.69px;top:1239.00px;font-size:35px;line-height:43px;color:#172b4d;transform:scaleX(0.7659);">...</span>
<svg class="a" style="left:760px;top:1246px;" width="40" height="28" viewBox="0 0 40 28"><path d="M7.3 12.5 L19.05 5.4 L30.8 12.5" fill="none" stroke="#e2483d" stroke-width="3.1" stroke-linecap="round" stroke-linejoin="round"/><path d="M7.3 22.3 L19.05 15.5 L30.8 22.3" fill="none" stroke="#ff7452" stroke-width="3.1" stroke-linecap="round" stroke-linejoin="round"/></svg>
<span class="a t" style="left:859.59px;top:1239.00px;font-size:35px;line-height:43px;color:#172b4d;transform:scaleX(1.0200);">Jun/10/25, 6:45 PM</span>
<span class="a t" style="left:1259.89px;top:1239.00px;font-size:35px;line-height:43px;color:#172b4d;transform:scaleX(1.0190);">Jun/21/25, 4:30 PM</span>
<span class="a t" style="left:1659.00px;top:1239.00px;font-size:35px;line-height:43px;color:#0c66e4;transform:scaleX(0.9948);">Jane Rotanson</span>
<div class="a " style="left:2059px;top:1240px;width:102.4px;height:40px;background:#dcdfe4;border-radius:7px;"></div>
<span class="a t" style="left:2070.74px;top:1243.20px;font-size:27.5px;line-height:35px;color:#44546f;transform:scaleX(0.8669);font-weight:700;">LABEL</span>
<span class="a t" style="left:2357.54px;top:1239.00px;font-size:35px;line-height:43px;color:#172b4d;transform:scaleX(1.0064);">Some goal</span>
<svg class="a" style="left:2689.8px;top:1251.1px;" width="28" height="20" viewBox="0 0 28 20"><path d="M6.4 6.2 L14 13.8 L21.6 6.2" fill="none" stroke="#44546f" stroke-width="5.2" stroke-linecap="round" stroke-linejoin="round"/></svg>
<div class="a " style="left:2754px;top:1230px;width:300px;height:60px;background:#22a06b;border-radius:7px;"></div>
<div class="a " style="left:2768.8px;top:1242.4px;width:9px;height:35.2px;background:#fff;border-radius:1.5px;"></div>
<div class="a " style="left:2790.8px;top:1242.4px;width:9px;height:35.2px;background:#fff;border-radius:1.5px;"></div>
<span class="a t" style="left:2868.71px;top:1242.00px;font-size:29.5px;line-height:37px;color:#fff;transform:scaleX(0.9782);font-weight:700;">84 h 40 m</span>
<span class="a t" style="left:3092.94px;top:1239.00px;font-size:35px;line-height:43px;color:#172b4d;transform:scaleX(1.0064);">Some goal</span>
<svg class="a" style="left:3424.8px;top:1251.1px;" width="28" height="20" viewBox="0 0 28 20"><path d="M6.4 6.2 L14 13.8 L21.6 6.2" fill="none" stroke="#44546f" stroke-width="5.2" stroke-linecap="round" stroke-linejoin="round"/></svg>
<div class="a " style="left:3489px;top:1230px;width:300px;height:60px;background:#c9372c;border-radius:7px;"></div>
<svg class="a" style="left:3499px;top:1236px;" width="44" height="48" viewBox="0 0 44 48"><path d="M6 7.5 L35 24 L6 40.5 Z" fill="#fff" stroke="#fff" stroke-width="4" stroke-linejoin="round"/></svg>
<span class="a t" style="left:3594.72px;top:1242.00px;font-size:29.5px;line-height:37px;color:#fff;transform:scaleX(0.9790);font-weight:700;">- 32 h 15 m</span>
<div class="a " style="left:69px;top:1320px;width:40px;height:40px;background:#1d7afc;border-radius:5px;"></div>
<div class="a" style="left:75.6px;top:1326.6px;width:26.8px;height:26.8px;box-sizing:border-box;border:3.4px solid #fff;border-radius:3.5px;"></div>
<span class="a t" style="left:169.37px;top:1319.00px;font-size:35px;line-height:43px;color:#172b4d;transform:scaleX(0.9776);">T-110</span>
<span class="a t" style="left:295.27px;top:1319.00px;font-size:35px;line-height:43px;color:#172b4d;transform:scaleX(0.9943);">Refactor API server code</span>
<svg class="a" style="left:760px;top:1326px;" width="40" height="28" viewBox="0 0 40 28"><path d="M7.3 12.5 L19.05 5.4 L30.8 12.5" fill="none" stroke="#e2483d" stroke-width="3.1" stroke-linecap="round" stroke-linejoin="round"/><path d="M7.3 22.3 L19.05 15.5 L30.8 22.3" fill="none" stroke="#ff7452" stroke-width="3.1" stroke-linecap="round" stroke-linejoin="round"/></svg>
<span class="a t" style="left:859.59px;top:1319.00px;font-size:35px;line-height:43px;color:#172b4d;transform:scaleX(1.0289);">Jun/11/25, 7:30 PM</span>
<span class="a t" style="left:1259.89px;top:1319.00px;font-size:35px;line-height:43px;color:#172b4d;transform:scaleX(1.0190);">Jun/22/25, 5:00 PM</span>
<span class="a t" style="left:1659.00px;top:1319.00px;font-size:35px;line-height:43px;color:#0c66e4;transform:scaleX(0.9948);">Jane Rotanson</span>
<div class="a " style="left:2059px;top:1320px;width:102.4px;height:40px;background:#dcdfe4;border-radius:7px;"></div>
<span class="a t" style="left:2070.74px;top:1323.20px;font-size:27.5px;line-height:35px;color:#44546f;transform:scaleX(0.8669);font-weight:700;">LABEL</span>
<span class="a t" style="left:2357.54px;top:1319.00px;font-size:35px;line-height:43px;color:#172b4d;transform:scaleX(1.0064);">Some goal</span>
<svg class="a" style="left:2689.8px;top:1331.1px;" width="28" height="20" viewBox="0 0 28 20"><path d="M6.4 6.2 L14 13.8 L21.6 6.2" fill="none" stroke="#44546f" stroke-width="5.2" stroke-linecap="round" stroke-linejoin="round"/></svg>
<div class="a " style="left:2754px;top:1310px;width:300px;height:60px;background:#22a06b;border-radius:7px;"></div>
<div class="a " style="left:2768.8px;top:1322.4px;width:9px;height:35.2px;background:#fff;border-radius:1.5px;"></div>
<div class="a " style="left:2790.8px;top:1322.4px;width:9px;height:35.2px;background:#fff;border-radius:1.5px;"></div>
<span class="a t" style="left:2868.83px;top:1322.00px;font-size:29.5px;line-height:37px;color:#fff;transform:scaleX(0.9782);font-weight:700;">34 h 12 m</span>
<span class="a t" style="left:3092.94px;top:1319.00px;font-size:35px;line-height:43px;color:#172b4d;transform:scaleX(1.0064);">Some goal</span>
<svg class="a" style="left:3424.8px;top:1331.1px;" width="28" height="20" viewBox="0 0 28 20"><path d="M6.4 6.2 L14 13.8 L21.6 6.2" fill="none" stroke="#44546f" stroke-width="5.2" stroke-linecap="round" stroke-linejoin="round"/></svg>
<div class="a " style="left:3489px;top:1310px;width:300px;height:60px;background:#22a06b;border-radius:7px;"></div>
<div class="a " style="left:3503.8px;top:1322.4px;width:9px;height:35.2px;background:#fff;border-radius:1.5px;"></div>
<div class="a " style="left:3525.8px;top:1322.4px;width:9px;height:35.2px;background:#fff;border-radius:1.5px;"></div>
<span class="a t" style="left:3607.75px;top:1322.00px;font-size:29.5px;line-height:37px;color:#fff;transform:scaleX(0.9777);font-weight:700;">55h 13 m</span>
<div class="a " style="left:29px;top:1390px;width:3780.5px;height:5px;background:#dcdfe4;"></div>
<div class="a " style="left:29px;top:2040px;width:369.8px;height:80px;background:#f0f1f5;border-radius:8px;"></div>
<svg class="a" style="left:60px;top:2052px;" width="60" height="56" viewBox="0 0 60 56"><g fill="#44546f" stroke="#44546f" stroke-linejoin="round" stroke-linecap="round"><path d="M6.5 31.4 L26.8 13.4 L34.3 32.3 L7.5 33.3 Z" stroke-width="3"/><path d="M14.6 39.4 L18.4 49" stroke-width="5" fill="none" stroke-linecap="butt"/><circle cx="18.4" cy="49" r="2.5" stroke="none"/><path d="M37.4 14.5 L41.3 9.4 M40.3 20.2 L46.6 17.6 M42.8 26.9 L49.4 28.3" stroke-width="4.4" fill="none"/></g></svg>
<span class="a t" style="left:129.48px;top:2058.80px;font-size:35px;line-height:43px;color:#172b4d;transform:scaleX(0.9691);-webkit-text-stroke:1.0px #172b4d;">Send Feedback</span>
<span class="a t" style="left:2793.14px;top:2058.80px;font-size:35px;line-height:43px;color:#172b4d;transform:scaleX(1.0044);">Rows:</span>
<div class="a" style="left:2898.8px;top:2040px;width:170px;height:80px;box-sizing:border-box;border:5px solid #dcdfe4;border-radius:9px;"></div>
<span class="a t" style="left:2917.76px;top:2058.80px;font-size:35px;line-height:43px;color:#172b4d;transform:scaleX(1.0344);">10</span>
<svg class="a" style="left:3005.2px;top:2071.2px;" width="28" height="20" viewBox="0 0 28 20"><path d="M6.4 6.2 L14 13.8 L21.6 6.2" fill="none" stroke="#44546f" stroke-width="5.2" stroke-linecap="round" stroke-linejoin="round"/></svg>
<svg class="a" style="left:3100px;top:2060px;" width="40" height="40" viewBox="0 0 40 40"><path d="M24.5 7.7 L13.8 19.2 L24.5 30.7" fill="none" stroke="#8590a2" stroke-width="5.4" stroke-linecap="round" stroke-linejoin="round"/></svg>
<svg class="a" style="left:3750px;top:2060px;" width="40" height="40" viewBox="0 0 40 40"><path d="M14 7.7 L24.7 19.2 L14 30.7" fill="none" stroke="#44546f" stroke-width="5.4" stroke-linecap="round" stroke-linejoin="round"/></svg>
<div class="a " style="left:3159.3px;top:2040px;width:79.4px;height:80px;background:#e9f2ff;border-radius:8px;"></div>
<span class="a t" style="left:3190.24px;top:2058.80px;font-size:35px;line-height:43px;color:#0c66e4;transform:scaleX(0.9105);-webkit-text-stroke:0.5px #0c66e4;">1</span>
<span class="a t" style="left:3270.13px;top:2058.80px;font-size:35px;line-height:43px;color:#172b4d;transform:scaleX(0.9152);-webkit-text-stroke:0.5px #172b4d;">2</span>
<span class="a t" style="left:3349.71px;top:2058.80px;font-size:35px;line-height:43px;color:#172b4d;transform:scaleX(0.9184);-webkit-text-stroke:0.5px #172b4d;">3</span>
<span class="a t" style="left:3429.67px;top:2058.80px;font-size:35px;line-height:43px;color:#172b4d;transform:scaleX(0.9229);-webkit-text-stroke:0.5px #172b4d;">4</span>
<span class="a t" style="left:3509.94px;top:2058.80px;font-size:35px;line-height:43px;color:#172b4d;transform:scaleX(0.9181);-webkit-text-stroke:0.5px #172b4d;">5</span>
<span class="a t" style="left:3581.06px;top:2058.80px;font-size:35px;line-height:43px;color:#172b4d;transform:scaleX(0.8911);-webkit-text-stroke:0.5px #172b4d;">...</span>
<span class="a t" style="left:3660.63px;top:2058.80px;font-size:35px;line-height:43px;color:#172b4d;transform:scaleX(0.9121);-webkit-text-stroke:0.5px #172b4d;">20</span>
</div></body></html>
